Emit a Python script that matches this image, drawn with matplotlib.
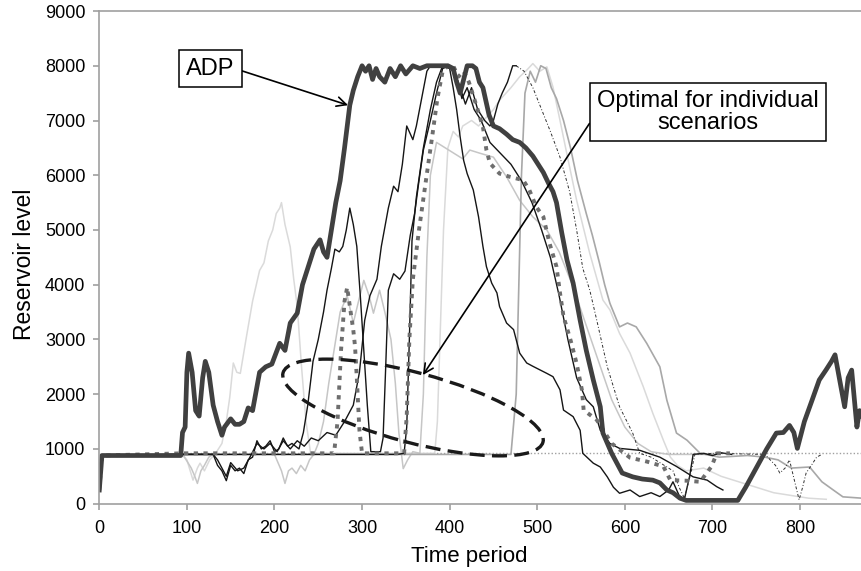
import matplotlib
matplotlib.use('Agg')
import matplotlib.pyplot as plt
from matplotlib.patches import Ellipse

plt.rcParams['font.family'] = ['Liberation Sans', 'DejaVu Sans']

# ---- data: (time period, reservoir level) ----
adp_pts = [(0, 250), (3, 880), (93, 880), (95, 1300), (98, 1400), (100, 2400), (102, 2750), (106, 2400),
           (110, 1700), (114, 1600), (118, 2300), (121, 2600), (125, 2400), (130, 1800), (135, 1500),
           (140, 1250), (143, 1400), (150, 1550), (155, 1450), (160, 1450), (165, 1500), (170, 1750),
           (175, 1700), (183, 2400), (190, 2500), (197, 2550), (206, 2930), (212, 2800), (218, 3300),
           (226, 3480), (232, 4000), (240, 4400), (245, 4650), (252, 4820), (256, 4600), (260, 4500),
           (265, 5000), (270, 5500), (275, 5900), (280, 6500), (286, 7280), (290, 7550), (295, 7800),
           (300, 8000), (304, 7900), (308, 8000), (312, 7750), (316, 7950), (320, 7800), (326, 7700),
           (332, 7950), (338, 7800), (344, 8000), (350, 7850), (358, 8000), (366, 7950), (374, 8000),
           (398, 8000), (404, 7950), (408, 7700), (412, 7500), (416, 7750), (420, 8000), (426, 8000),
           (430, 7950), (434, 7700), (438, 7600), (445, 7100), (450, 6900), (457, 6850), (465, 6750),
           (472, 6650), (480, 6600), (487, 6500), (495, 6350), (501, 6200), (507, 6050), (513, 5850),
           (518, 5700), (522, 5500), (528, 4950), (534, 4450), (541, 4030), (549, 3350), (556, 2800),
           (564, 2260), (572, 1770), (575, 1290), (585, 920), (597, 560), (609, 490), (620, 450),
           (632, 430), (640, 380), (648, 250), (655, 200), (663, 100), (670, 60), (729, 60), (738, 300),
           (750, 650), (762, 1000), (773, 1290), (781, 1300), (788, 1430), (793, 1300), (797, 1010),
           (805, 1500), (814, 1900), (822, 2260), (830, 2450), (836, 2600), (840, 2720), (846, 2200),
           (851, 1770), (855, 2300), (859, 2440), (865, 1400), (868, 1700), (871, 1600)]

opt1_pts = [(0, 250), (3, 880), (95, 900), (130, 900), (135, 700), (140, 600), (145, 420), (150, 700),
            (155, 600), (160, 650), (165, 550), (170, 800), (175, 850), (180, 1150), (185, 1000),
            (190, 1050), (195, 1150), (200, 950), (205, 1000), (210, 1200), (215, 1050), (220, 1100),
            (228, 1000), (233, 1300), (238, 1800), (244, 2600), (250, 3000), (256, 3500), (260, 3900),
            (265, 4300), (269, 4650), (274, 4600), (278, 4700), (282, 5000), (286, 5400), (290, 5100),
            (294, 4700), (298, 3800), (302, 2800), (306, 1800), (310, 950), (321, 950), (324, 1200),
            (327, 2500), (330, 3900), (336, 4200), (343, 4100), (349, 4250), (355, 4900), (360, 5300),
            (365, 5900), (370, 6460), (378, 7000), (385, 7500), (392, 7950), (400, 8000), (410, 7700),
            (418, 7300), (425, 7600), (432, 7200), (440, 7000), (446, 6900), (450, 7000), (455, 7300),
            (460, 7500), (466, 7700), (472, 8000), (476, 8000)]

opt1_tail_pts = [(476, 8000), (485, 7900), (495, 7600), (505, 7200), (515, 6800), (526, 6330),
                 (537, 5700), (545, 5000), (552, 4300), (560, 3900), (568, 3350), (580, 2500),
                 (594, 1770), (609, 1290), (617, 920), (630, 850), (645, 700), (655, 600), (662, 300),
                 (668, 100), (676, 600), (680, 900), (700, 920), (760, 900), (766, 800), (772, 700),
                 (777, 560), (783, 650), (788, 800), (794, 400), (799, 70), (803, 300), (807, 560),
                 (813, 700), (819, 850), (825, 900)]

opt2_pts = [(0, 250), (3, 880), (95, 900), (130, 900), (135, 800), (140, 650), (145, 500), (150, 750),
            (158, 600), (165, 650), (172, 850), (180, 1100), (188, 1000), (195, 1100), (203, 950),
            (210, 1150), (218, 1000), (226, 1150), (234, 1050), (242, 1200), (250, 1150), (260, 1300),
            (270, 1250), (280, 1500), (290, 1800), (297, 2400), (303, 3350), (309, 3800), (317, 4100),
            (322, 4700), (330, 5400), (336, 5800), (341, 5700), (346, 6200), (351, 6900), (358, 6650),
            (362, 6900), (368, 7400), (374, 7900), (378, 8000), (390, 8000), (400, 7950), (404, 7600),
            (408, 7200), (412, 6700), (416, 6270), (420, 6030), (427, 5730), (433, 5240), (438, 4700),
            (442, 4330), (448, 4030), (454, 3850), (457, 3600), (465, 3300), (473, 3180), (480, 2750),
            (488, 2570), (495, 2510), (511, 2380), (518, 2320), (526, 2080), (530, 1710), (541, 1590),
            (549, 1340), (552, 920), (564, 740), (572, 670), (580, 490), (587, 300), (594, 190),
            (606, 250), (617, 130), (630, 200), (640, 130), (650, 250), (655, 400), (662, 150),
            (668, 80), (674, 500), (678, 900), (690, 920), (700, 880), (710, 930), (722, 900)]

opt3_pts = [(0, 250), (3, 880), (95, 900), (340, 900), (348, 920), (351, 1400), (354, 3000),
            (357, 4800), (362, 5600), (370, 6500), (378, 7200), (385, 7700), (392, 8000), (400, 8000),
            (408, 7800), (414, 7400), (420, 7600), (428, 7200), (436, 7000), (446, 6600), (458, 6400),
            (470, 6200), (482, 5900), (494, 5500), (505, 5000), (515, 4500), (525, 3800), (535, 3000),
            (545, 2300), (556, 1900), (564, 1770), (572, 1340), (583, 1100), (594, 1010), (617, 975),
            (640, 850), (659, 680), (678, 490), (694, 430), (705, 310), (712, 250)]

dotted_pts = [(0, 250), (3, 880), (95, 920), (268, 920), (272, 1500), (276, 2800), (280, 3700),
              (283, 3950), (287, 3500), (290, 3170), (292, 2870), (294, 2300), (297, 1340), (300, 920),
              (348, 920), (351, 1600), (354, 3000), (358, 4100), (365, 5000), (372, 5800), (380, 6700),
              (386, 7400), (392, 7900), (398, 8000), (404, 8000), (410, 7800), (416, 7900), (422, 7700),
              (431, 7250), (438, 6880), (442, 6460), (446, 6220), (457, 6030), (469, 5970), (484, 5910),
              (491, 5730), (499, 5420), (507, 5240), (514, 4760), (522, 4330), (526, 3850), (530, 3420),
              (538, 2990), (545, 2560), (551, 2080), (553, 1710), (568, 1530), (585, 1100), (606, 840),
              (625, 770), (644, 680), (652, 430), (670, 420), (686, 400), (699, 680), (705, 920),
              (720, 920)]

light1_pts = [(0, 250), (3, 880), (95, 900), (100, 800), (107, 430), (112, 650), (115, 740), (120, 600),
              (126, 800), (132, 900), (140, 1100), (145, 1500), (149, 1950), (153, 2570), (157, 2400),
              (161, 2380), (168, 3050), (175, 3700), (183, 4260), (188, 4400), (193, 4800), (198, 5000),
              (202, 5300), (206, 5400), (208, 5500), (212, 5100), (218, 4690), (222, 4100), (226, 3600),
              (231, 2480), (236, 1500), (241, 950), (250, 920), (383, 920), (386, 1500), (389, 3000),
              (393, 5000), (398, 6500), (404, 6800), (410, 6700), (415, 6900), (425, 7000), (433, 6900),
              (442, 7060), (450, 7200), (457, 7370), (470, 7600), (480, 7800), (488, 7920), (495, 8040),
              (503, 7900), (511, 7980), (518, 7610), (526, 7000), (535, 6300), (545, 5540), (560, 4570),
              (575, 3720), (583, 3540), (594, 3110), (606, 2750), (621, 2140), (632, 1650), (644, 1160),
              (652, 850), (660, 700), (670, 600), (690, 650), (710, 500), (730, 400), (750, 300),
              (770, 200), (790, 150), (810, 100), (830, 80)]

light2_pts = [(0, 250), (3, 880), (95, 900), (100, 780), (105, 650), (109, 500), (112, 370), (116, 600),
              (120, 700), (125, 850), (130, 900), (200, 900), (204, 750), (208, 600), (212, 370),
              (216, 600), (220, 650), (225, 550), (230, 700), (235, 600), (240, 800), (245, 900),
              (250, 1100), (256, 1500), (262, 2200), (268, 2800), (275, 3500), (283, 3800), (290, 3300),
              (296, 3700), (302, 4080), (308, 3800), (313, 3480), (320, 3900), (326, 3500), (333, 3000),
              (338, 2200), (342, 1300), (347, 640), (352, 800), (358, 950), (366, 920), (370, 2000),
              (374, 4500), (378, 6000), (385, 6600), (395, 6500), (405, 6400), (415, 6300), (423, 6460),
              (435, 6400), (450, 6330), (465, 5970), (480, 5540), (495, 5240), (511, 5000), (525, 4600),
              (540, 4000), (555, 3300), (570, 2600), (585, 1900), (600, 1400), (615, 1100), (630, 950),
              (650, 900), (700, 900)]

mid_pts = [(0, 250), (3, 880), (95, 900), (470, 900), (476, 2000), (479, 4000), (482, 6000), (486, 7500),
           (492, 7900), (498, 7700), (504, 8000), (510, 7950), (516, 7600), (522, 7400), (530, 7000),
           (538, 6500), (546, 5900), (556, 5300), (563, 4900), (571, 4400), (577, 4000), (583, 3660),
           (594, 3230), (603, 3300), (613, 3230), (625, 2930), (640, 2500), (648, 1890), (659, 1290),
           (671, 1160), (686, 920), (708, 850), (740, 880), (760, 850), (775, 800), (790, 650),
           (811, 670), (825, 400), (838, 250), (849, 125), (871, 100)]

base_pts = [(95, 920), (871, 920)]

fig = plt.figure(figsize=(8.62, 5.71), dpi=100)
ax = fig.add_axes([0.1152, 0.1179, 0.885, 0.8628])


def draw(pts, **kw):
    t, v = zip(*pts)
    ax.plot(t, v, solid_joinstyle='round', **kw)


draw(base_pts, color='#a0a0a0', lw=1.0, ls=(0, (1, 1.5)))
draw(light1_pts, color='#dadada', lw=1.1)
draw(light2_pts, color='#c6c6c6', lw=1.1)
draw(mid_pts, color='#a8a8a8', lw=1.2)
draw(opt3_pts, color='#151515', lw=1.0)
draw(opt2_pts, color='#151515', lw=1.0)
draw(opt1_pts, color='#151515', lw=1.0)
draw(opt1_tail_pts, color='#303030', lw=0.7, ls=(0, (3, 2, 1, 2)))
draw(dotted_pts, color='#6e6e6e', lw=2.8, ls=(0, (1.1, 1.4)))
draw(adp_pts, color='#404040', lw=3.4)

ax.set_xlim(0, 871)
ax.set_ylim(0, 9000)
ax.set_xticks(range(0, 900, 100))
ax.set_yticks(range(0, 10000, 1000))
for s in ['top', 'left', 'bottom']:
    ax.spines[s].set_color('#a0a0a0')
    ax.spines[s].set_linewidth(1.2)
ax.spines['right'].set_visible(False)
ax.tick_params(axis='both', direction='out', length=4, width=1.2, color='#a0a0a0',
               labelsize=13, labelcolor='black')
ax.tick_params(axis='x', pad=8)
ax.tick_params(axis='y', pad=6)

ax.set_xlabel('Time period', fontsize=16)
ax.set_ylabel('Reservoir level', fontsize=16.5)
ax.xaxis.set_label_coords(0.485, -0.086)
ax.yaxis.set_label_coords(-0.083, 0.485)

# annotations
ax.annotate('ADP', xy=(284, 7280), xycoords='data',
            xytext=(0.2442, 0.880), textcoords='figure fraction',
            ha='center', va='center', fontsize=17,
            bbox=dict(boxstyle='square,pad=0.3', fc='white', ec='black', lw=1.1),
            arrowprops=dict(arrowstyle='->', color='black', lw=1.2, shrinkA=0, shrinkB=0,
                            relpos=(1.0, 0.5)))

ax.annotate('Optimal for individual\nscenarios', xy=(369.5, 2350), xycoords='data',
            xytext=(0.8213, 0.8039), textcoords='figure fraction',
            ha='center', va='center', fontsize=17, multialignment='center', linespacing=1.0,
            bbox=dict(boxstyle='square,pad=0.3', fc='white', ec='black', lw=1.1),
            arrowprops=dict(arrowstyle='->', color='black', lw=1.2, shrinkA=0, shrinkB=0,
                            relpos=(0.0, 0.5)))

ell = Ellipse((4.13, 1.635), 2.69, 0.70, angle=-14.9, transform=fig.dpi_scale_trans,
              fill=False, ec='#1a1a1a', lw=2.4, ls=(0, (4.5, 2.2)))
fig.add_artist(ell)

fig.savefig('out.png', dpi=100)
